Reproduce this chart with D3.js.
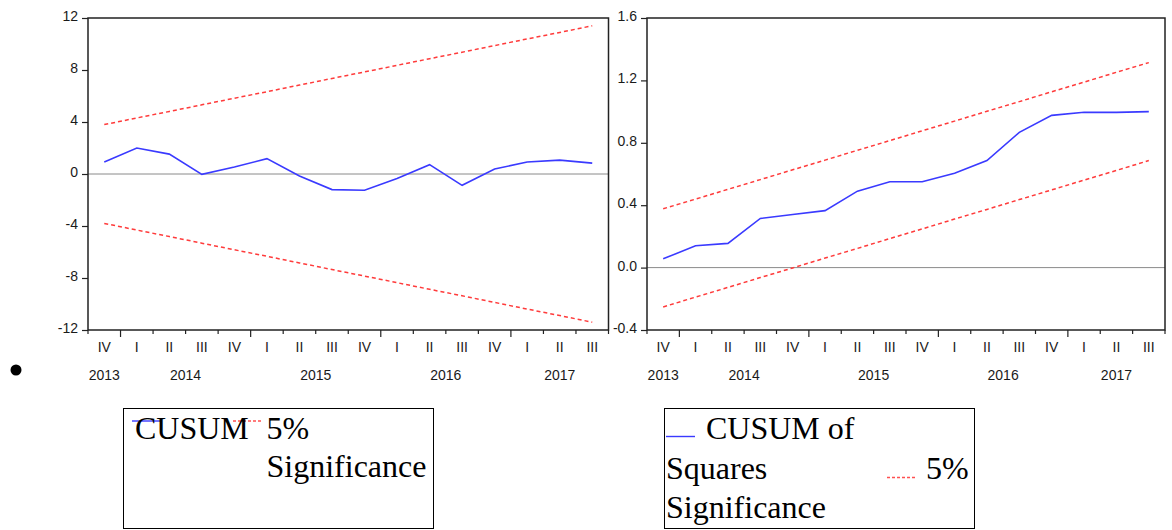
<!DOCTYPE html>
<html>
<head>
<meta charset="utf-8">
<script src="https://cdn.jsdelivr.net/npm/d3@7/dist/d3.min.js"></script>
<style>
body { margin: 0; background: #fff; }
.axisText { font-family: "Liberation Sans", Arial, sans-serif; font-size: 14px; fill: #1a1a1a; }
.legendText { font-family: "Times New Roman", "Liberation Serif", serif; font-size: 32px; fill: #000; }
</style>
</head>
<body>
<svg id="chart" width="1172" height="530"></svg>
<script>
// quarters shown on both panels
var periods = ["2013Q4", "2014Q1", "2014Q2", "2014Q3", "2014Q4", "2015Q1", "2015Q2", "2015Q3",
               "2015Q4", "2016Q1", "2016Q2", "2016Q3", "2016Q4", "2017Q1", "2017Q2", "2017Q3"];
var romans = {"1": "I", "2": "II", "3": "III", "4": "IV"};

// left panel: CUSUM
var cusum      = [0.92, 2.00, 1.53, -0.03, 0.54, 1.18, -0.15, -1.20, -1.25, -0.35, 0.72, -0.87, 0.38, 0.92, 1.07, 0.84];
var cusumUpper = [3.80, 4.31, 4.81, 5.32, 5.83, 6.33, 6.84, 7.35, 7.85, 8.36, 8.87, 9.37, 9.88, 10.39, 10.89, 11.40];
var cusumLower = [-3.80, -4.31, -4.81, -5.32, -5.83, -6.33, -6.84, -7.35, -7.85, -8.36, -8.87, -9.37, -9.88, -10.39, -10.89, -11.40];
var cusumTicks = [-12, -8, -4, 0, 4, 8, 12];

// right panel: CUSUM of squares
var cusumSq      = [0.056, 0.14, 0.155, 0.315, 0.34, 0.365, 0.49, 0.55, 0.55, 0.605, 0.686, 0.867, 0.976, 0.996, 0.995, 1.0];
var cusumSqUpper = [0.377, 0.439, 0.502, 0.564, 0.627, 0.689, 0.752, 0.814, 0.877, 0.939, 1.002, 1.064, 1.127, 1.189, 1.252, 1.314];
var cusumSqLower = [-0.252, -0.189, -0.127, -0.064, -0.002, 0.061, 0.123, 0.186, 0.248, 0.311, 0.373, 0.436, 0.498, 0.561, 0.623, 0.686];
var cusumSqTicks = [-0.4, 0.0, 0.4, 0.8, 1.2, 1.6];

var svg = d3.select("#chart");

function drawPanel(box, series, upper, lower, ticks, fmt) {
    var xScale = d3.scaleBand().domain(periods).range([box.left, box.right]).padding(0);
    var yScale = d3.scaleLinear().domain([ticks[0], ticks[ticks.length - 1]]).range([box.bottom, box.top]);
    var g = svg.append("g");

    // zero line
    g.append("line")
        .attr("x1", box.left).attr("x2", box.right)
        .attr("y1", yScale(0)).attr("y2", yScale(0))
        .attr("stroke", "#8a8a8a").attr("stroke-width", 1);

    // y axis
    var yAxis = d3.axisLeft(yScale).tickValues(ticks).tickSize(6).tickPadding(4).tickFormat(fmt);
    var ya = g.append("g")
        .attr("transform", "translate(" + box.left + ",0)")
        .call(yAxis);
    ya.select(".domain").remove();
    ya.selectAll(".tick line").attr("stroke", "#222").attr("stroke-width", 1.2);
    ya.selectAll(".tick text")
        .attr("class", "axisText")
        .attr("font-family", null).attr("font-size", null)
        .attr("dy", "2.5px");

    // x ticks at band boundaries, longer ones at year starts
    var bounds = periods.map(function (p) { return {x: xScale(p), major: p.slice(-1) === "1"}; });
    bounds.push({x: box.right, major: false});
    g.selectAll(".xtick").data(bounds).enter().append("line")
        .attr("class", "xtick")
        .attr("x1", function (d) { return d.x; }).attr("x2", function (d) { return d.x; })
        .attr("y1", box.bottom)
        .attr("y2", function (d) { return box.bottom + (d.major ? 7 : 4); })
        .attr("stroke", "#222").attr("stroke-width", 1.2);

    // quarter labels
    g.selectAll(".qlab").data(periods).enter().append("text")
        .attr("class", "axisText")
        .attr("x", function (d) { return xScale(d) + xScale.bandwidth() / 2; })
        .attr("y", box.bottom + 21.5)
        .attr("text-anchor", "middle")
        .text(function (d) { return romans[d.slice(-1)]; });

    // year labels centred on the quarters they cover
    var years = d3.groups(periods, function (d) { return d.slice(0, 4); });
    g.selectAll(".ylab").data(years).enter().append("text")
        .attr("class", "axisText")
        .attr("x", function (d) {
            var first = d[1][0], last = d[1][d[1].length - 1];
            return (xScale(first) + xScale(last) + xScale.bandwidth()) / 2;
        })
        .attr("y", box.bottom + 50)
        .attr("text-anchor", "middle")
        .text(function (d) { return d[0]; });

    var line = d3.line()
        .x(function (d, i) { return xScale(periods[i]) + xScale.bandwidth() / 2; })
        .y(function (d) { return yScale(d); });

    [upper, lower].forEach(function (b) {
        g.append("path").datum(b)
            .attr("d", line)
            .attr("fill", "none")
            .attr("stroke", "#ff3b3b")
            .attr("stroke-width", 1.5)
            .attr("stroke-dasharray", "4,3");
    });

    g.append("path").datum(series)
        .attr("d", line)
        .attr("fill", "none")
        .attr("stroke", "#3a3aff")
        .attr("stroke-width", 1.6);

    // frame
    g.append("rect")
        .attr("x", box.left).attr("y", box.top)
        .attr("width", box.right - box.left).attr("height", box.bottom - box.top)
        .attr("fill", "none").attr("stroke", "#222").attr("stroke-width", 1.5);
}

drawPanel({left: 88, right: 608.5, top: 18, bottom: 330}, cusum, cusumUpper, cusumLower, cusumTicks,
    function (d) { return String(d); });
drawPanel({left: 647, right: 1165, top: 18, bottom: 330}, cusumSq, cusumSqUpper, cusumSqLower, cusumSqTicks,
    function (d) { return d.toFixed(1); });

// bullet
svg.append("circle").attr("cx", 16).attr("cy", 370).attr("r", 5.5).attr("fill", "#000");

// legend boxes
function legendBox(x) {
    svg.append("rect")
        .attr("x", x).attr("y", 408.5).attr("width", 310).attr("height", 120)
        .attr("fill", "none").attr("stroke", "#000").attr("stroke-width", 1);
}
function legendLine(x1, x2, y, color, dash) {
    svg.append("line")
        .attr("x1", x1).attr("x2", x2).attr("y1", y).attr("y2", y)
        .attr("stroke", color).attr("stroke-width", 1.4)
        .attr("stroke-dasharray", dash);
}
function legendText(x, y, t) {
    svg.append("text").attr("class", "legendText").attr("x", x).attr("y", y).text(t);
}

legendBox(123.5);
legendLine(132, 161, 421, "#3a3aff", null);
legendLine(233, 262, 421, "#ff5050", "3,2");
legendText(135, 439, "CUSUM");
legendText(266.5, 439, "5%");
legendText(266.5, 477, "Significance");

legendBox(664.5);
legendLine(666, 695, 436.5, "#3a3aff", null);
legendLine(887, 917, 477.5, "#ff5050", "3,2");
legendText(706, 439, "CUSUM of");
legendText(666, 479, "Squares");
legendText(926, 479, "5%");
legendText(666, 518, "Significance");
</script>
</body>
</html>
